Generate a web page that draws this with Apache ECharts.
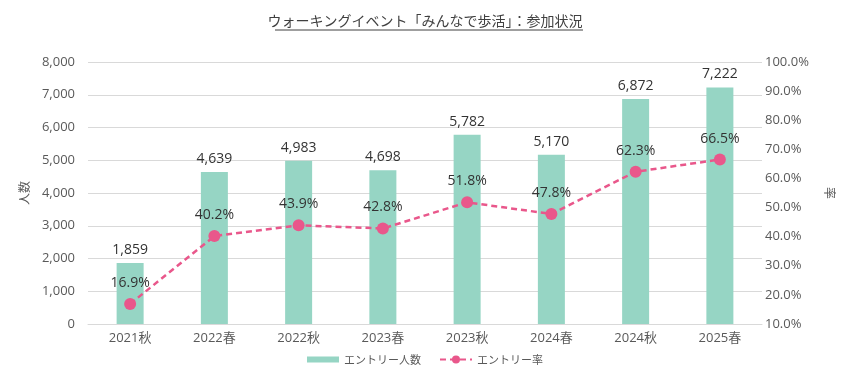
<!DOCTYPE html>
<html><head><meta charset="utf-8">
<script src="https://cdn.jsdelivr.net/npm/echarts@6/dist/echarts.min.js"></script>
<style>html,body{margin:0;padding:0;background:#fff}#c{width:850px;height:382px}</style>
</head><body><div id="c"></div>
<script>
var categories = ['2021秋','2022春','2022秋','2023春','2023秋','2024春','2024秋','2025春'];
var entries = [1859, 4639, 4983, 4698, 5782, 5170, 6872, 7222];
var rates = [16.9, 40.2, 43.9, 42.8, 51.8, 47.8, 62.3, 66.5];
var titleText = 'ウォーキングイベント「みんなで歩活」：参加状況';

var FONT = '"Open Sans", "Noto Sans CJK JP", sans-serif';
var CJK = '"Noto Sans CJK JP", sans-serif';
var chart = echarts.init(document.getElementById('c'));
chart.setOption({
  animation: false,
  textStyle: {fontFamily: FONT},
  title: {text: titleText, left: 'center', top: 9, textStyle: {fontSize: 14, fontWeight: 'normal', color: '#404040', fontFamily: CJK}},
  graphic: [{type: 'line', shape: {x1: 275, y1: 30, x2: 583, y2: 30}, style: {stroke: '#404040', lineWidth: 1}}],
  legend: {
    bottom: 12, left: 'center', itemGap: 18, itemWidth: 32, itemHeight: 10,
    textStyle: {fontSize: 11, color: '#595959', fontFamily: CJK},
    data: [
      {name: 'エントリー人数', icon: 'path://M0,0H32V6H0Z'},
      {name: 'エントリー率'}
    ]
  },
  grid: {left: 88, right: 88, top: 62, bottom: 58},
  xAxis: {
    type: 'category', data: categories,
    axisLine: {lineStyle: {color: '#d9d9d9'}}, axisTick: {show: false},
    axisLabel: {fontSize: 13, color: '#595959', margin: 8}
  },
  yAxis: [
    {type: 'value', min: 0, max: 8000, interval: 1000, name: '人数', nameLocation: 'middle', nameGap: 58, nameRotate: 90,
     nameTextStyle: {fontSize: 12, color: '#595959', fontFamily: CJK},
     axisLabel: {fontSize: 13, color: '#595959', margin: 13, formatter: function(v){return v.toLocaleString('en-US');}},
     splitLine: {lineStyle: {color: '#d9d9d9'}}, axisLine: {show: false}, axisTick: {show: false}},
    {type: 'value', min: 10, max: 100, interval: 10, name: '率', nameLocation: 'middle', nameGap: 62, nameRotate: -90,
     nameTextStyle: {fontSize: 12, color: '#595959', fontFamily: CJK},
     axisLabel: {fontSize: 13, color: '#595959', margin: 3, formatter: function(v){return v.toFixed(1)+'%';}},
     splitLine: {show: false}, axisLine: {show: false}, axisTick: {show: false}}
  ],
  series: [
    {name: 'エントリー人数', type: 'bar', data: entries, barWidth: 27, yAxisIndex: 0,
     itemStyle: {color: '#96d5c4'},
     label: {show: true, position: 'top', distance: 6, fontSize: 14, color: '#333333', formatter: function(p){return p.value.toLocaleString('en-US');}}},
    {name: 'エントリー率', type: 'line', data: rates, yAxisIndex: 1, symbol: 'circle', symbolSize: 12,
     lineStyle: {color: '#e9578b', width: 2.5, type: [6, 4]}, itemStyle: {color: '#e9578b'},
     label: {show: true, position: 'top', distance: 8, fontSize: 14, color: '#333333', formatter: function(p){return p.value.toFixed(1)+'%';}}}
  ]
});
</script></body></html>
